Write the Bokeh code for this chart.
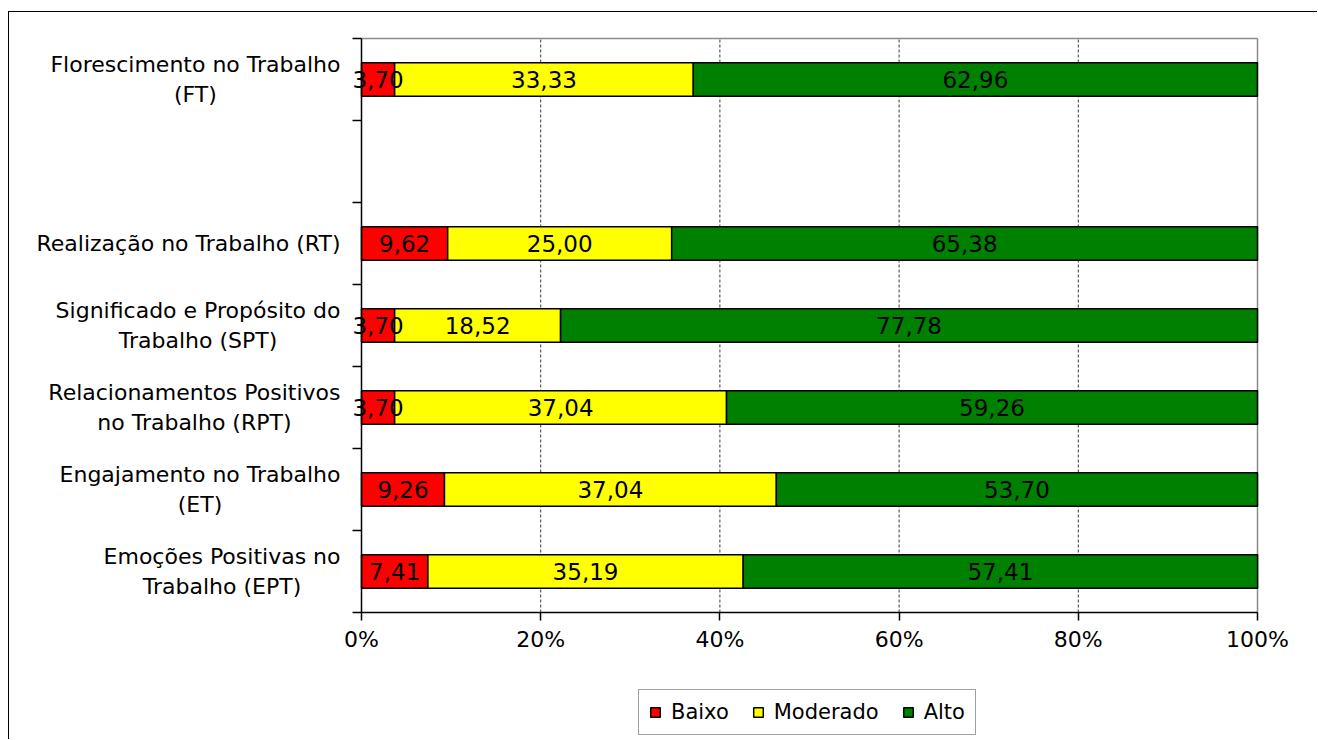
from bokeh.plotting import figure
from bokeh.models import (ColumnDataSource, FixedTicker, Legend, LegendItem)
from bokeh.core.properties import value
from bokeh.embed import file_html
from bokeh.resources import INLINE

# ---- data (top to bottom; "" is the empty slot) ----
categories = ["Florescimento no Trabalho\n(FT)", "", "Realização no Trabalho (RT)",
              "Significado e Propósito do\nTrabalho (SPT)",
              "Relacionamentos Positivos\nno Trabalho (RPT)",
              "Engajamento no Trabalho\n(ET)",
              "Emoções Positivas no\nTrabalho (EPT)"]
baixo = [3.70, None, 9.62, 3.70, 3.70, 9.26, 7.41]
moderado = [33.33, None, 25.00, 18.52, 37.04, 37.04, 35.19]
alto = [62.96, None, 65.38, 77.78, 59.26, 53.70, 57.41]
series_names = ["Baixo", "Moderado", "Alto"]
series_colors = ["#FF0000", "#FFFF00", "#008000"]
x_ticks = [0, 20, 40, 60, 80, 100]
x_tick_labels = ["0%", "20%", "40%", "60%", "80%", "100%"]
grid_ticks = [20, 40, 60, 80]

FONT = "DejaVu Sans"
n = len(categories)

# layout (pixels inside the figure; the frame fills the whole figure)
W, H = 1309, 728
px0, px100 = 352, 1248          # x = 0% and x = 100%
py_top, py_bot = 26, 600        # top and bottom of the plot area
ppu_x = (px100 - px0) / 100
ppu_y = (py_bot - py_top) / n
x_start = -px0 / ppu_x
x_end = 100 + (W - px100) / ppu_x
y_start = -(H - py_bot) / ppu_y
y_end = n + py_top / ppu_y

p = figure(width=W, height=H, output_backend="svg", toolbar_location=None,
           x_range=(x_start, x_end), y_range=(y_start, y_end), min_border=0)
p.styles = {"margin-left": "8px", "margin-top": "11px",
            "border-left": "1px solid black", "border-top": "1px solid black"}
p.outline_line_color = None
p.xgrid.grid_line_color = None
p.ygrid.grid_line_color = None

rows = [i for i in range(n) if baixo[i] is not None]
ypos = [n - 0.5 - i for i in rows]
b = [baixo[i] for i in rows]
m = [moderado[i] for i in rows]
a = [alto[i] for i in rows]
src = ColumnDataSource(dict(y=ypos, b=b, m=m, a=a))

# dashed vertical grid lines and gray plot-area border
p.segment(x0=grid_ticks, y0=[0] * len(grid_ticks), x1=grid_ticks, y1=[n] * len(grid_ticks),
          line_color="#3a3a3a", line_dash="3 2", line_width=1)
p.segment(x0=[0, 100], y0=[n, 0], x1=[100, 100], y1=[n, n],
          line_color="#8c8c8c", line_width=1.5)

renderers = p.hbar_stack(["b", "m", "a"], y="y", height=0.41, source=src,
                         color=series_colors, line_color="black", line_width=1.5)

# value labels
lx, ly, lt = [], [], []
for yy, vals in zip(ypos, zip(b, m, a)):
    start = 0
    for v in vals:
        lx.append(start + v / 2)
        ly.append(yy)
        lt.append(f"{v:.2f}".replace(".", ","))
        start += v
p.text(x="x", y="y", text="t", source=ColumnDataSource(dict(x=lx, y=ly, t=lt)),
       text_align="center", text_baseline="middle", text_font=value(FONT),
       text_font_size="23px", text_color="black")

# category labels (centered lines, block right-anchored left of the axis)
named = [i for i in range(n) if categories[i]]
p.text(x=[0] * len(named), y=[n - 0.5 - i for i in named],
       text=[categories[i] for i in named], x_offset=-21,
       anchor=value("center_right"), text_align="center", text_baseline="middle",
       text_font=value(FONT), text_font_size="22px", text_color="black",
       text_line_height=1.22)

# x axis at y = 0
p.xaxis.fixed_location = 0
p.xaxis.bounds = (0, 100)
p.xaxis.ticker = FixedTicker(ticks=x_ticks)
p.xaxis.major_label_overrides = {t: l for t, l in zip(x_ticks, x_tick_labels)}
p.xaxis.major_label_text_font = FONT
p.xaxis.major_label_text_font_size = "22px"
p.xaxis.major_label_text_color = "black"
p.xaxis.major_tick_in = 0
p.xaxis.major_tick_out = 8
p.xaxis.minor_tick_line_color = None
p.xaxis.axis_line_color = "black"
p.xaxis.axis_line_width = 1.5
p.xaxis.major_tick_line_width = 1.5
p.xaxis.major_label_standoff = 6

# y axis at x = 0 with ticks on slot boundaries (minor ticks, no labels)
p.yaxis.fixed_location = 0
p.yaxis.bounds = (0, n)
p.yaxis.ticker = FixedTicker(ticks=[], minor_ticks=list(range(n + 1)))
p.yaxis.major_label_standoff = 0
p.yaxis.major_tick_line_color = None
p.yaxis.minor_tick_in = 0
p.yaxis.minor_tick_out = 9
p.yaxis.minor_tick_line_color = "black"
p.yaxis.minor_tick_line_width = 1.5
p.yaxis.axis_line_color = "black"
p.yaxis.axis_line_width = 1.5

legend = Legend(items=[LegendItem(label=nm, renderers=[r]) for nm, r in zip(series_names, renderers)],
                orientation="horizontal", location=(629, 5))
legend.label_text_font = FONT
legend.label_text_font_size = "21px"
legend.label_text_color = "black"
legend.glyph_width = 12
legend.glyph_height = 12
legend.label_standoff = 10
legend.spacing = 23
legend.padding = 10
legend.margin = 0
legend.label_height = 22
legend.border_line_color = "#444444"
legend.border_line_width = 1.2
p.add_layout(legend, "center")

open("out.html", "w").write(file_html(p, INLINE))
